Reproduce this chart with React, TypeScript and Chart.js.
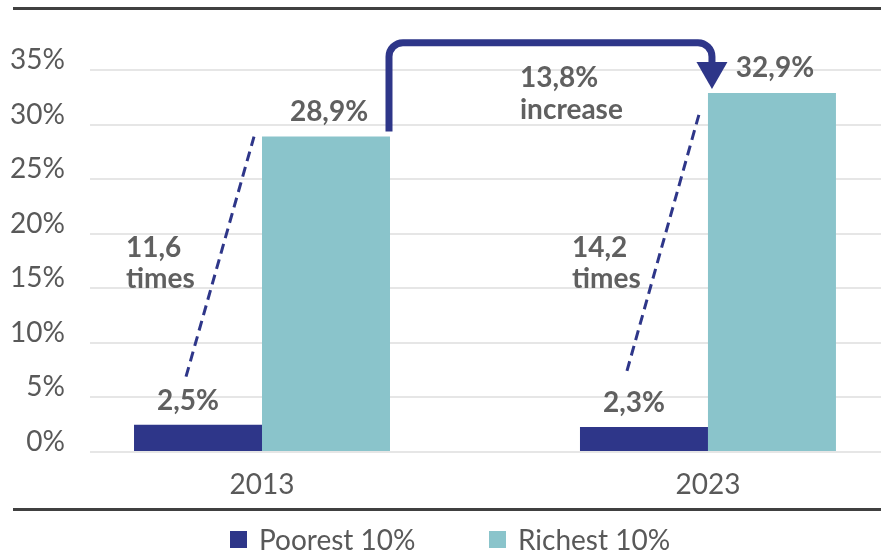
import { useEffect, useRef } from "react";
import { Chart, registerables } from "chart.js";

Chart.register(...registerables);

const categories = ["2013", "2023"];
const seriesNames = ["Poorest 10%", "Richest 10%"];
const poorest = [2.5, 2.3];
const richest = [28.9, 32.9];
const ratioLabels = ["11,6", "14,2"];
const increaseLabel = "13,8%";
const yTickStep = 5;
const yMax = 35;

const NAVY = "#2E3689";
const TEAL = "#8AC4CB";
const TICK_COLOR = "#595959";
const LABEL_COLOR = "#606060";
const FONT = "Lato, 'Open Sans', sans-serif";

const fmt = (v: number) => v.toFixed(1).replace(".", ",") + "%";

const annotPlugin = {
  id: "annot",
  afterDatasetsDraw(chart: any) {
    const ctx: CanvasRenderingContext2D = chart.ctx;
    const xs = chart.scales.x;
    const ys = chart.scales.y;
    const p = chart.getDatasetMeta(0).data as any[];
    const r = chart.getDatasetMeta(1).data as any[];
    ctx.save();

    // frame lines
    ctx.strokeStyle = "#404040";
    ctx.lineWidth = 3;
    ctx.beginPath();
    ctx.moveTo(13, 8.5);
    ctx.lineTo(chart.width, 8.5);
    ctx.moveTo(13, 509.5);
    ctx.lineTo(chart.width, 509.5);
    ctx.stroke();

    // value labels
    ctx.font = `bold 28px ${FONT}`;
    ctx.fillStyle = LABEL_COLOR;
    ctx.textAlign = "center";
    ctx.textBaseline = "alphabetic";
    p.forEach((el, i) => ctx.fillText(fmt(poorest[i]), el.x - 10, el.y - 15));
    r.forEach((el, i) => ctx.fillText(fmt(richest[i]), el.x + 3, el.y - 16));

    // ratio labels
    ctx.textAlign = "left";
    categories.forEach((_, i) => {
      const cx = xs.getPixelForValue(i) - 136;
      ctx.fillText(ratioLabels[i], cx, ys.getPixelForValue(17.9));
      ctx.fillText("times", cx, ys.getPixelForValue(15.05));
    });

    // increase label
    const mid = (xs.getPixelForValue(0) + xs.getPixelForValue(1)) / 2 + 35;
    ctx.fillText(increaseLabel, mid, ys.getPixelForValue(33.4));
    ctx.fillText("increase", mid, ys.getPixelForValue(30.55));

    // dashed connectors
    ctx.strokeStyle = NAVY;
    ctx.lineWidth = 3;
    ctx.setLineDash([10, 6]);
    const dashOff = [
      [-12, -48, 0],
      [-17, -56, 18],
    ];
    p.forEach((el, i) => {
      const rr = r[i];
      const [dx, dy, ty] = dashOff[i];
      ctx.beginPath();
      ctx.moveTo(el.x + dx, el.y + dy);
      ctx.lineTo(rr.x - rr.width / 2 - 8, rr.y + ty);
      ctx.stroke();
    });
    ctx.setLineDash([]);

    // arrow
    const r0 = r[0];
    const r1 = r[1];
    const sx = r0.x + r0.width / 2 - 1;
    const sy = r0.y - 5;
    const topY = ys.getPixelForValue(37.5);
    const tipX = r1.x - r1.width / 2 + 4;
    const tipY = r1.y - 4;
    const rad = 14;
    const headBase = tipY - 27;
    const hw = 15.5;
    ctx.lineWidth = 7;
    ctx.lineCap = "butt";
    ctx.beginPath();
    ctx.moveTo(sx, sy);
    ctx.arcTo(sx, topY, tipX, topY, rad);
    ctx.arcTo(tipX, topY, tipX, headBase, rad);
    ctx.lineTo(tipX, headBase + 1);
    ctx.stroke();
    ctx.fillStyle = NAVY;
    ctx.beginPath();
    ctx.moveTo(tipX - hw, headBase);
    ctx.lineTo(tipX + hw, headBase);
    ctx.lineTo(tipX, tipY);
    ctx.closePath();
    ctx.fill();

    // legend
    const legendX = [230, 489];
    ctx.font = `28px ${FONT}`;
    ctx.textAlign = "left";
    ctx.textBaseline = "alphabetic";
    chart.data.datasets.forEach((ds: any, i: number) => {
      ctx.fillStyle = ds.backgroundColor;
      ctx.fillRect(legendX[i], 531, 17, 17);
      ctx.fillStyle = TICK_COLOR;
      ctx.fillText(seriesNames[i], legendX[i] + 29, 550);
    });

    ctx.restore();
  },
};

export default function App() {
  const ref = useRef<HTMLCanvasElement | null>(null);

  useEffect(() => {
    if (!ref.current) return;
    const chart = new Chart(ref.current, {
      type: "bar",
      data: {
        datasets: [
          {
            label: seriesNames[0],
            data: poorest.map((v, i) => ({ x: i, y: v })),
            backgroundColor: NAVY,
            categoryPercentage: 0.574,
            barPercentage: 1,
          },
          {
            label: seriesNames[1],
            data: richest.map((v, i) => ({ x: i, y: v })),
            backgroundColor: TEAL,
            categoryPercentage: 0.574,
            barPercentage: 1,
          },
        ] as any,
      },
      options: {
        responsive: false,
        animation: false,
        layout: { padding: { top: 70, left: 0, right: 0, bottom: 0 } },
        plugins: { legend: { display: false }, tooltip: { enabled: false } },
        scales: {
          x: {
            type: "linear",
            min: -0.3857,
            max: 1.388,
            offset: false,
            grid: { display: false, drawTicks: false },
            border: { display: false },
            afterBuildTicks: (s: any) => {
              s.ticks = categories.map((_, i) => ({ value: i }));
            },
            afterFit: (s: any) => {
              s.height = 104;
            },
            ticks: {
              callback: (v: any) => categories[v] ?? "",
              font: { family: FONT, size: 28 },
              color: TICK_COLOR,
              padding: 16,
              maxRotation: 0,
              autoSkip: false,
            },
          },
          y: {
            min: 0,
            max: yMax,
            afterFit: (s: any) => {
              s.width = 90;
            },
            grid: { color: "#E6E6E6", lineWidth: 2, drawTicks: false },
            border: { display: false },
            ticks: {
              stepSize: yTickStep,
              callback: (v: any) => v + "%",
              font: { family: FONT, size: 28 },
              color: TICK_COLOR,
              padding: 25,
              labelOffset: -10,
            },
          },
        } as any,
      },
      plugins: [annotPlugin],
    });
    return () => chart.destroy();
  }, []);

  return (
    <div style={{ position: "absolute", left: 0, top: 0, width: 881, height: 556, background: "#fff" }}>
      <canvas ref={ref} width={881} height={556} style={{ display: "block" }} />
    </div>
  );
}
